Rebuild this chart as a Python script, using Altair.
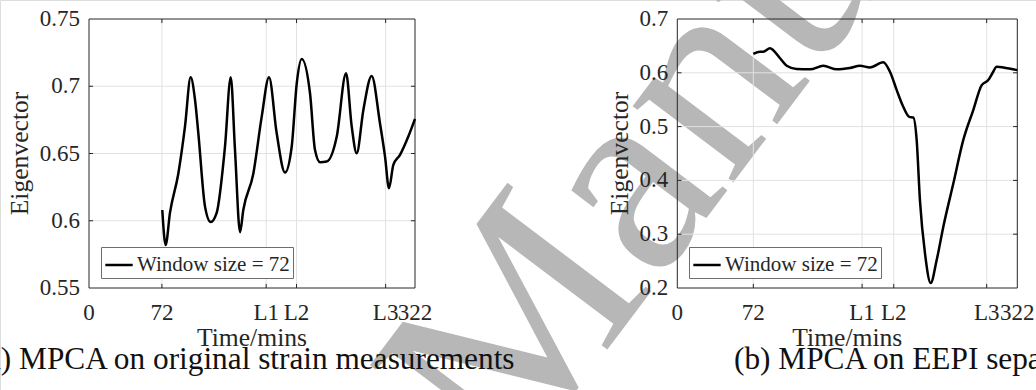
import altair as alt
import pandas as pd

FONT = "Liberation Serif"
SERIES = "Window size = 72"
X_TICKS = [0, 72, 175, 205, 293, 322]
X_TICK_LABELS = ["0", "72", "L1", "L2", "L3", "322"]
X_DOMAIN = [0, 322]
X_TITLE = "Time/mins"
Y_TITLE = "Eigenvector"

# Panel (a): MPCA on original strain measurements
A_TIME = [72.4, 75.7, 80, 88.2, 94.8, 100.4, 104.7, 108, 114.6, 120.2, 126, 134.3, 140,
          144.2, 149.2, 152.4, 162.3, 170.6, 177.8, 185.4, 193.6, 200.2, 205.2, 210.1,
          218.3, 223.2, 228.2, 234.8, 244.7, 253.9, 259.5, 264.4, 271, 279.2, 287.4,
          292.4, 296.3, 300.6, 307.2, 315.4, 322]
A_VAL = [0.608, 0.582, 0.606, 0.635, 0.670, 0.7067, 0.690, 0.665, 0.6105, 0.599, 0.6056,
         0.655, 0.7067, 0.6527, 0.5915, 0.608, 0.635, 0.6774, 0.7067, 0.665, 0.6358, 0.655,
         0.7022, 0.7203, 0.6948, 0.6527, 0.6435, 0.644, 0.6626, 0.7096, 0.670, 0.6502,
         0.6824, 0.7077, 0.6725, 0.6477, 0.6242, 0.6415, 0.649, 0.6626, 0.6757]
A_YDOMAIN = [0.55, 0.75]
A_YTICKS = [0.55, 0.6, 0.65, 0.7, 0.75]
A_YLABELS = ["0.55", "0.6", "0.65", "0.7", "0.75"]

# Panel (b): MPCA on EEPI separated strain measurements
B_TIME = [72, 78.3, 81.4, 87.8, 90.9, 97.3, 103.6, 113, 125.7, 138.3, 151, 163.5, 173,
          182.5, 195, 201.4, 207.8, 214, 219.7, 223.5, 226.7, 229.8, 234.6, 240, 245.6,
          251.9, 261.4, 270.8, 280.3, 288.3, 294.5, 299.2, 302.4, 308.7, 322]
B_VAL = [0.635, 0.639, 0.639, 0.6455, 0.642, 0.627, 0.613, 0.607, 0.6064, 0.613, 0.6064,
         0.609, 0.613, 0.610, 0.6194, 0.602, 0.5679, 0.5368, 0.518, 0.517, 0.4748, 0.363,
         0.264, 0.2093, 0.2515, 0.3135, 0.3942, 0.4748, 0.5307, 0.5772, 0.5865, 0.602,
         0.6112, 0.610, 0.605]
B_YDOMAIN = [0.2, 0.7]
B_YTICKS = [0.2, 0.3, 0.4, 0.5, 0.6, 0.7]
B_YLABELS = ["0.2", "0.3", "0.4", "0.5", "0.6", "0.7"]

CAPTIONS = ["(a) MPCA on original strain measurements",
            "(b) MPCA on EEPI separated strain measurements"]
WATERMARK = "Manuscript"

W, H = 1036, 390
TXT = "#262626"
GRID = "#e2e2e2"


def panel(times, vals, ydom, yticks, ylabels, xr, yr, ytitle_x, legend_xy, tick_len_y):
    xs = alt.Scale(domain=X_DOMAIN, range=xr, nice=False, zero=False)
    ys = alt.Scale(domain=ydom, range=yr, nice=False, zero=False)
    df = pd.DataFrame({"t": times, "v": vals, "s": SERIES})

    line = alt.Chart(df).mark_line(
        strokeWidth=2.5, interpolate="monotone", clip=True
    ).encode(
        x=alt.X("t:Q", scale=xs, axis=None),
        y=alt.Y("v:Q", scale=ys, axis=None),
        color=alt.Color("s:N", scale=alt.Scale(range=["black"]), legend=alt.Legend(
            orient="none", legendX=legend_xy[0], legendY=legend_xy[1], title=None,
            fillColor="white", strokeColor="#6e6e6e", padding=3, symbolType="stroke",
            symbolStrokeWidth=2.5, symbolSize=750, labelFont=FONT, labelFontSize=21,
            labelColor=TXT, labelOffset=3, cornerRadius=0)),
    )

    # grid lines
    vgrid_df = pd.DataFrame({"t": X_TICKS[1:-1], "y0": ydom[0], "y1": ydom[1]})
    vgrid = alt.Chart(vgrid_df).mark_rule(color=GRID, strokeWidth=1).encode(
        x=alt.X("t:Q", scale=xs, axis=None),
        y=alt.Y("y0:Q", scale=ys, axis=None), y2="y1:Q")
    hgrid_df = pd.DataFrame({"v": yticks[1:-1], "x0": X_DOMAIN[0], "x1": X_DOMAIN[1]})
    hgrid = alt.Chart(hgrid_df).mark_rule(color=GRID, strokeWidth=1).encode(
        y=alt.Y("v:Q", scale=ys, axis=None),
        x=alt.X("x0:Q", scale=xs, axis=None), x2="x1:Q")

    # inward ticks
    ty_rows = []
    for v in yticks[1:-1]:
        ty_rows.append({"v": v, "x0": 0, "x1": 4})
        ty_rows.append({"v": v, "x0": 318, "x1": 322})
    yt = alt.Chart(pd.DataFrame(ty_rows)).mark_rule(color=TXT, strokeWidth=1).encode(
        y=alt.Y("v:Q", scale=ys, axis=None),
        x=alt.X("x0:Q", scale=xs, axis=None), x2="x1:Q")
    tx_rows = []
    for t in X_TICKS[1:-1]:
        tx_rows.append({"t": t, "y0": ydom[0], "y1": ydom[0] + tick_len_y})
        tx_rows.append({"t": t, "y0": ydom[1] - tick_len_y, "y1": ydom[1]})
    xt = alt.Chart(pd.DataFrame(tx_rows)).mark_rule(color=TXT, strokeWidth=1).encode(
        x=alt.X("t:Q", scale=xs, axis=None),
        y=alt.Y("y0:Q", scale=ys, axis=None), y2="y1:Q")

    frame_df = pd.DataFrame({"x0": [X_DOMAIN[0]], "x1": [X_DOMAIN[1]],
                             "y0": [ydom[0]], "y1": [ydom[1]]})
    frame = alt.Chart(frame_df).mark_rect(
        fillOpacity=0, stroke=TXT, strokeWidth=1
    ).encode(
        x=alt.X("x0:Q", scale=xs, axis=None), x2="x1:Q",
        y=alt.Y("y0:Q", scale=ys, axis=None), y2="y1:Q")

    # tick labels placed through the scales
    ylab = alt.Chart(pd.DataFrame({"v": yticks, "l": ylabels})).mark_text(
        font=FONT, fontSize=23, color=TXT, align="right", baseline="middle"
    ).encode(y=alt.Y("v:Q", scale=ys, axis=None), x=alt.value(xr[0] - 9), text="l:N")
    xlab = alt.Chart(pd.DataFrame({"t": X_TICKS, "l": X_TICK_LABELS})).mark_text(
        font=FONT, fontSize=23, color=TXT, align="center", baseline="alphabetic"
    ).encode(x=alt.X("t:Q", scale=xs, axis=None), y=alt.value(320), text="l:N")

    xtitle = alt.Chart(pd.DataFrame({"l": [X_TITLE]})).mark_text(
        font=FONT, fontSize=25.6, color=TXT, align="center", baseline="alphabetic"
    ).encode(x=alt.value((xr[0] + xr[1]) / 2), y=alt.value(346), text="l:N")
    ytitle = alt.Chart(pd.DataFrame({"l": [Y_TITLE]})).mark_text(
        font=FONT, fontSize=25.6, color=TXT, align="center", baseline="alphabetic",
        angle=270
    ).encode(x=alt.value(ytitle_x), y=alt.value((yr[0] + yr[1]) / 2), text="l:N")

    return alt.layer(vgrid, hgrid, yt, xt, frame, line, ylab, xlab, xtitle, ytitle)


wm = alt.Chart(pd.DataFrame({"w": [WATERMARK]})).mark_text(
    font=FONT, fontSize=275, angle=307, align="left", baseline="alphabetic",
    color="#b7b7b7"
).encode(text="w:N", x=alt.value(509), y=alt.value(480))

cap = alt.Chart(pd.DataFrame({"c": CAPTIONS, "px": [-23.5, 734], "py": [369, 369]})).mark_text(
    font=FONT, fontSize=31.3, align="left", baseline="alphabetic", color="#111111"
).encode(text="c:N", x=alt.X("px:Q", scale=None), y=alt.Y("py:Q", scale=None))

pa = panel(A_TIME, A_VAL, A_YDOMAIN, A_YTICKS, A_YLABELS, [89, 415], [288, 19], 28,
           (101, 247), 0.003)
pb = panel(B_TIME, B_VAL, B_YDOMAIN, B_YTICKS, B_YLABELS, [677.3, 1017.3], [288, 19], 628,
           (689, 247), 0.0075)

chart = alt.layer(wm, pa, pb, cap).resolve_scale(
    x="independent", y="independent", color="independent"
).resolve_legend(color="independent").properties(
    width=W, height=H, autosize=alt.AutoSizeParams(type="none"), padding=0
).configure_view(stroke=None).configure(background="white")

chart.save("out.html", embed_options={"renderer": "svg", "actions": False})
